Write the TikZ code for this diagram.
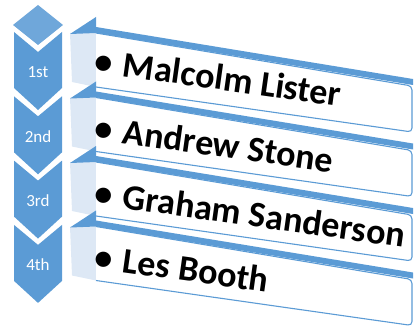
\documentclass[tikz,border=0pt]{standalone}
\usepackage{fontspec}
\setmainfont{Carlito}
\definecolor{chevblue}{HTML}{5B9BD5}
\definecolor{sideblue}{HTML}{DDE8F5}

\begin{document}
\begin{tikzpicture}[x=1pt,y=-1pt,
        chevron/.style={fill=chevblue},
        topface/.style={fill=chevblue},
        sideface/.style={fill=sideblue},
        frontface/.style={draw=chevblue,line width=1.1pt,rounded corners=4pt},
        ranklabel/.style={text=white,font=\fontsize{17}{17}\selectfont},
        person/.style={anchor=base west,rotate=-8,inner sep=0pt,
            font=\fontsize{36}{36}\selectfont\bfseries}]
            \useasboundingbox (0,0) rectangle (415,329);
            \fill[chevron,fill=chevblue!88!white] (38,5) -- (63,25) -- (38,45) -- (13,25) -- cycle;
            \foreach \r [count=\i from 0] in {1st,2nd,3rd,4th}{
                \pgfmathsetmacro{\t}{32+64.3*\i}
                \fill[chevron] (14,\t) -- (38,\t+20) -- (62,\t) -- (62,\t+56)
                    -- (38,\t+78) -- (14,\t+56) -- cycle;
                \node[ranklabel] (r\i) at (38,\t+40) {\r};
            }
            \foreach \i in {0,...,3}{
                \pgfmathsetmacro{\d}{64.5*\i}
                \fill[sideface] (70,33+\d) -- (96,33+\d) -- (96,87+\d) -- (72,82+\d) -- cycle;
                \fill[topface] (70,34+\d) -- (96,17+\d) -- (96,27+\d) -- (413,79+\d)
                    -- (413,85+\d) -- (96,33+\d) -- cycle;
                \fill[white] (96,33+\d) -- (412,86+\d) -- (412,132+\d) -- (96,87+\d) -- cycle;
                \draw[frontface] (96,33+\d) -- (412,86+\d) -- (412,132+\d) -- (96,87+\d);
            }
            \foreach \who/\y [count=\i from 0] in {Malcolm Lister/72,Andrew Stone/139,
                Graham Sanderson/204,Les Booth/268}{
                \node[person] (p\i) at (93,\y) {\makebox[29pt][l]{•}\who};
            }
\end{tikzpicture}
\end{document}
